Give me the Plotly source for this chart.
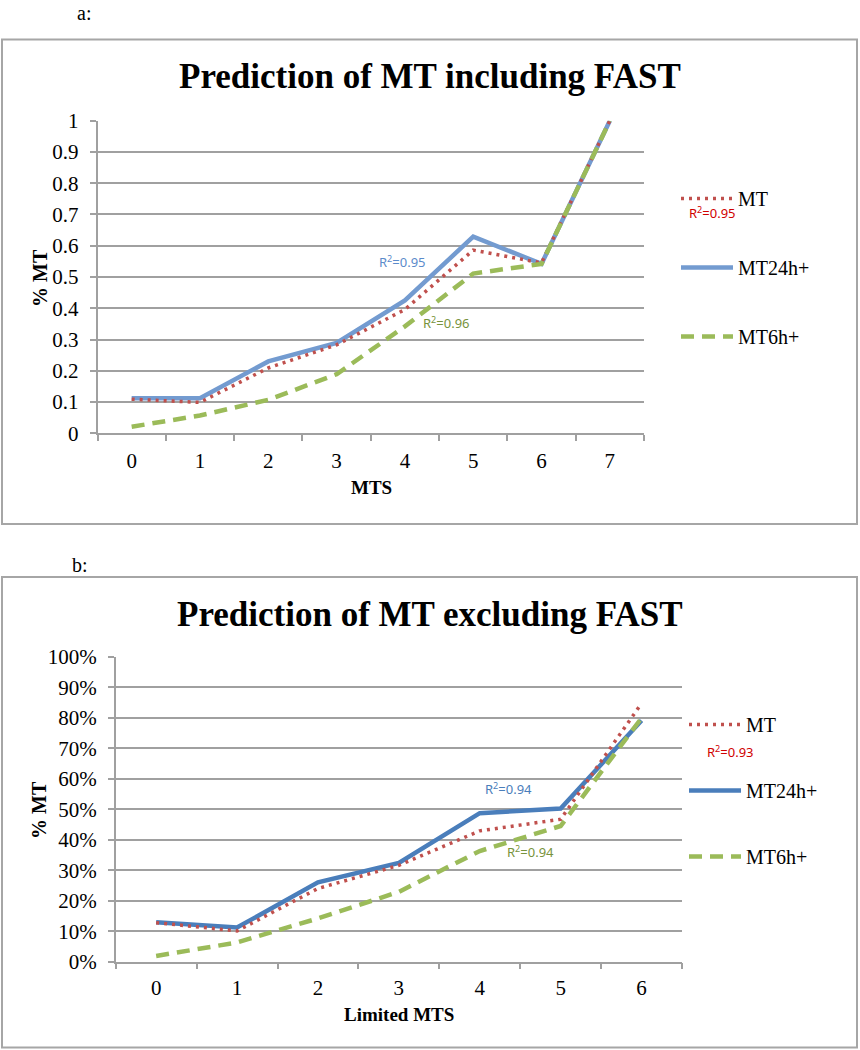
import plotly.graph_objects as go

# ---------------- data ----------------
cats_a = ["0", "1", "2", "3", "4", "5", "6", "7"]
mt_a = [0.109, 0.099, 0.209, 0.283, 0.396, 0.586, 0.545, 1.0]
mt24_a = [0.112, 0.112, 0.230, 0.289, 0.425, 0.629, 0.542, 1.0]
mt6_a = [0.021, 0.057, 0.107, 0.189, 0.342, 0.511, 0.542, 1.0]

cats_b = ["0", "1", "2", "3", "4", "5", "6"]
mt_b = [0.128, 0.101, 0.240, 0.316, 0.429, 0.467, 0.847]
mt24_b = [0.129, 0.112, 0.260, 0.324, 0.487, 0.502, 0.791]
mt6_b = [0.019, 0.063, 0.142, 0.229, 0.363, 0.445, 0.799]

ytick_a = [0, 0.1, 0.2, 0.3, 0.4, 0.5, 0.6, 0.7, 0.8, 0.9, 1]
ytext_a = ["0", "0.1", "0.2", "0.3", "0.4", "0.5", "0.6", "0.7", "0.8", "0.9", "1"]
ytick_b = [0, 0.1, 0.2, 0.3, 0.4, 0.5, 0.6, 0.7, 0.8, 0.9, 1.0]

r2_a = {"MT": "0.95", "MT24h+": "0.95", "MT6h+": "0.96"}
r2_b = {"MT": "0.93", "MT24h+": "0.94", "MT6h+": "0.94"}

# ---------------- styling ----------------
W, H = 860, 1050
SERIF = "Liberation Serif, Times New Roman, serif"
SANS = "Noto Sans, Open Sans, sans-serif"
RED = "#C0504D"
BLUE_A = "#739BD0"
BLUE_B = "#4A7EBB"
GREEN = "#9BBB59"
GRID = "#A0A0A0"


def px(x):
    return x / W


def py(y):
    return 1 - y / H


fig = go.Figure()


def add_series(cats, mt, mt24, mt6, xa, ya, leg, blue):
    fig.add_trace(go.Scatter(x=cats, y=mt24, name="MT24h+", mode="lines",
                             line=dict(color=blue, width=4.5),
                             xaxis=xa, yaxis=ya, legend=leg, legendgroup=leg + "b",
                             legendrank=2, hoverinfo="skip"))
    fig.add_trace(go.Scatter(x=cats, y=mt, name="MT", mode="lines",
                             line=dict(color=RED, width=3.5, dash="3px,5px"),
                             xaxis=xa, yaxis=ya, legend=leg, legendgroup=leg + "a",
                             legendrank=1, hoverinfo="skip"))
    fig.add_trace(go.Scatter(x=cats, y=mt6, name="MT6h+", mode="lines",
                             line=dict(color=GREEN, width=4.5, dash="13px,8px"),
                             xaxis=xa, yaxis=ya, legend=leg, legendgroup=leg + "c",
                             legendrank=3, hoverinfo="skip"))


add_series(cats_a, mt_a, mt24_a, mt6_a, "x", "y", "legend", BLUE_A)
add_series(cats_b, mt_b, mt24_b, mt6_b, "x2", "y2", "legend2", BLUE_B)

axis_common = dict(showline=True, linecolor=GRID, linewidth=1.5,
                   ticks="outside", tickcolor=GRID, ticklen=6, tickwidth=1.5,
                   tickfont=dict(family=SERIF, size=21, color="#000"),
                   fixedrange=True, automargin=False)

fig.update_layout(
    width=W, height=H,
    margin=dict(l=0, r=0, t=0, b=0, pad=0, autoexpand=False),
    paper_bgcolor="white", plot_bgcolor="white",
    showlegend=True,
    xaxis=dict(domain=[px(97.5), px(644)], anchor="y", type="category",
               range=[-0.5, len(cats_a) - 0.5],
               tickson="boundaries", showgrid=False, ticklabelstandoff=8, **axis_common),
    yaxis=dict(domain=[py(433.3), py(120.7)], anchor="x", range=[0, 1],
               tickvals=ytick_a, ticktext=ytext_a, showgrid=True, gridcolor=GRID,
               gridwidth=1.5, zeroline=False, ticklabelstandoff=7, **axis_common),
    xaxis2=dict(domain=[px(115.7), px(682)], anchor="y2", type="category",
                range=[-0.5, len(cats_b) - 0.5],
                tickson="boundaries", showgrid=False, ticklabelstandoff=6, **axis_common),
    yaxis2=dict(domain=[py(961.7), py(656.7)], anchor="x2", range=[0, 1],
                tickvals=ytick_b, tickformat=".0%", showgrid=True, gridcolor=GRID,
                gridwidth=1.5, zeroline=False, ticklabelstandoff=7, **axis_common),
    legend=dict(x=px(676), y=py(179), xanchor="left", yanchor="top",
                font=dict(family=SERIF, size=20, color="#000"), itemwidth=52,
                traceorder="grouped", tracegroupgap=40, bgcolor="rgba(0,0,0,0)",
                itemclick=False, itemdoubleclick=False),
    legend2=dict(x=px(684), y=py(705), xanchor="left", yanchor="top",
                 font=dict(family=SERIF, size=20, color="#000"), itemwidth=52,
                 traceorder="grouped", tracegroupgap=37, bgcolor="rgba(0,0,0,0)",
                 itemclick=False, itemdoubleclick=False),
)

# frames around both charts
fig.add_shape(type="rect", xref="paper", yref="paper",
              x0=px(2), x1=px(857), y0=py(524), y1=py(39.5),
              line=dict(color="#A6A6A6", width=2))
fig.add_shape(type="rect", xref="paper", yref="paper",
              x0=px(2), x1=px(857), y0=py(1047.5), y1=py(577),
              line=dict(color="#A6A6A6", width=2))


def note(text, x, y, size, color="#000", family=SERIF, ref=("paper", "paper"), angle=0):
    return dict(text=text, x=x, y=y, xref=ref[0], yref=ref[1], showarrow=False,
                xanchor="center", yanchor="middle", textangle=angle,
                font=dict(family=family, size=size, color=color))


ann = [
    # panel letters
    note("a:", px(84), py(13), 20),
    note("b:", px(80), py(565), 20),
    # chart titles
    note("<b>Prediction of MT including FAST</b>", px(430), py(76), 35),
    note("<b>Prediction of MT excluding FAST</b>", px(430), py(614), 35),
    # axis titles
    note("<b>% MT</b>", px(40), py(278), 20, angle=-90),
    note("<b>% MT</b>", px(39), py(810), 20, angle=-90),
    note("<b>MTS</b>", px(371), py(487), 19),
    note("<b>Limited MTS</b>", px(399), py(1014), 19),
    # R^2 labels on the charts
    note("R<sup>2</sup>=" + r2_a["MT24h+"], 3.97, 0.549, 13, "#5B8BCB", SANS, ("x", "y")),
    note("R<sup>2</sup>=" + r2_a["MT6h+"], 4.61, 0.355, 13, "#77933C", SANS, ("x", "y")),
    note("R<sup>2</sup>=" + r2_b["MT24h+"], 4.35, 0.567, 13, "#4A7EBB", SANS, ("x2", "y2")),
    note("R<sup>2</sup>=" + r2_b["MT6h+"], 4.63, 0.36, 13, "#77933C", SANS, ("x2", "y2")),
    # R^2 labels under the MT legend entries
    note("R<sup>2</sup>=" + r2_a["MT"], px(712), py(212), 13, "#D00000", SANS),
    note("R<sup>2</sup>=" + r2_b["MT"], px(730), py(751), 13, "#D00000", SANS),
]

fig.update_layout(annotations=ann)

fig.write_html("out.html", config={"displayModeBar": False},
               post_script="document.body.style.margin='0px';")
